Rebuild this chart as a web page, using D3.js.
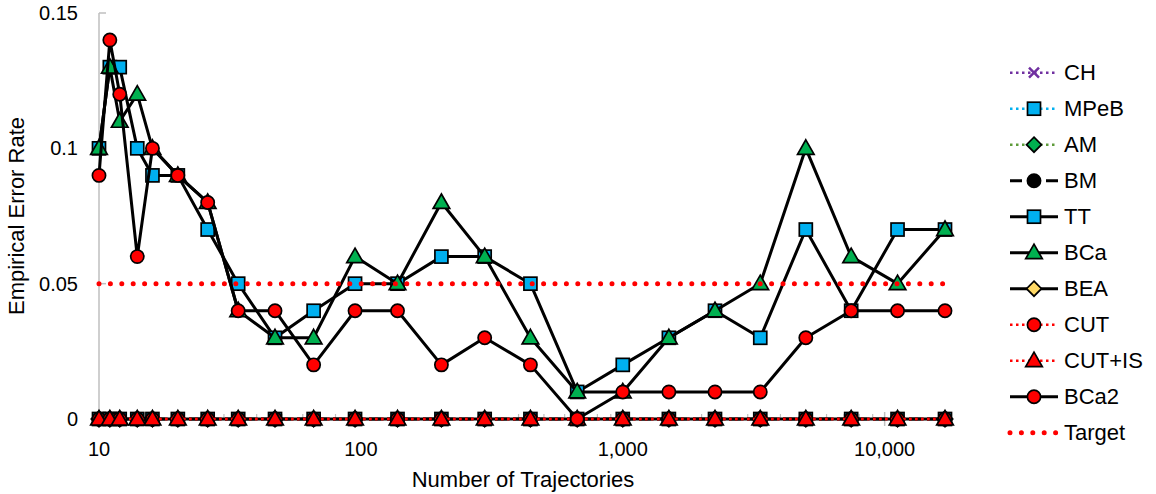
<!DOCTYPE html>
<html>
<head>
<meta charset="utf-8">
<script src="https://cdn.jsdelivr.net/npm/d3@7"></script>
<style>
body { margin: 0; background: #fff; }
text { font-family: "Liberation Sans", Arial, sans-serif; fill: #000; }
</style>
</head>
<body>
<script>
// data
var trajectories = [10, 11, 12, 14, 16, 20, 26, 34, 47, 66, 95, 138, 203, 297, 444, 670, 1000, 1500, 2250, 3350, 5000, 7450, 11200, 17000];

var ch    = [0, 0, 0, 0, 0, 0, 0, 0, 0, 0, 0, 0, 0, 0, 0, 0, 0, 0, 0, 0, 0, 0, 0, 0];
var mpeb  = [0, 0, 0, 0, 0, 0, 0, 0, 0, 0, 0, 0, 0, 0, 0, 0, 0, 0, 0, 0, 0, 0, 0, 0];
var am    = [0, 0, 0, 0, 0, 0, 0, 0, 0, 0, 0, 0, 0, 0, 0, 0, 0, 0, 0, 0, 0, 0, 0, 0];
var bm    = [0, 0, 0, 0, 0, 0, 0, 0, 0, 0, 0, 0, 0, 0, 0, 0, 0, 0, 0, 0, 0, 0, 0, 0];
var tt    = [0.10, 0.13, 0.13, 0.10, 0.09, 0.09, 0.07, 0.05, 0.03, 0.04, 0.05, 0.05, 0.06, 0.06, 0.05, 0.01, 0.02, 0.03, 0.04, 0.03, 0.07, 0.04, 0.07, 0.07];
var bca   = [0.10, 0.13, 0.11, 0.12, 0.10, 0.09, 0.08, 0.04, 0.03, 0.03, 0.06, 0.05, 0.08, 0.06, 0.03, 0.01, 0.01, 0.03, 0.04, 0.05, 0.10, 0.06, 0.05, 0.07];
var bea   = [0, 0, 0, 0, 0, 0, 0, 0, 0, 0, 0, 0, 0, 0, 0, 0, 0, 0, 0, 0, 0, 0, 0, 0];
var cut   = [0, 0, 0, 0, 0, 0, 0, 0, 0, 0, 0, 0, 0, 0, 0, 0, 0, 0, 0, 0, 0, 0, 0, 0];
var cutis = [0, 0, 0, 0, 0, 0, 0, 0, 0, 0, 0, 0, 0, 0, 0, 0, 0, 0, 0, 0, 0, 0, 0, 0];
var bca2  = [0.09, 0.14, 0.12, 0.06, 0.10, 0.09, 0.08, 0.04, 0.04, 0.02, 0.04, 0.04, 0.02, 0.03, 0.02, 0.00, 0.01, 0.01, 0.01, 0.01, 0.03, 0.04, 0.04, 0.04];
var target = [0.05, 0.05, 0.05, 0.05, 0.05, 0.05, 0.05, 0.05, 0.05, 0.05, 0.05, 0.05, 0.05, 0.05, 0.05, 0.05, 0.05, 0.05, 0.05, 0.05, 0.05, 0.05, 0.05, 0.05];

var yTicks = [0, 0.05, 0.1, 0.15];
var xTicks = [10, 100, 1000, 10000];

// styles for every series (legend order = drawing order)
var series = [
	{name: 'CH',     values: ch,     stroke: '#7030A0', width: 2.5, dash: '2.5 3.5', marker: 'x',        fill: 'none'},
	{name: 'MPeB',   values: mpeb,   stroke: '#00B0F0', width: 2.5, dash: '2.5 3.5', marker: 'square',   fill: '#00B0F0'},
	{name: 'AM',     values: am,     stroke: '#5E9B3A', width: 2.5, dash: '2.5 3.5', marker: 'diamond',  fill: '#00B050'},
	{name: 'BM',     values: bm,     stroke: '#000',    width: 3,   dash: '12 6',    marker: 'circle',   fill: '#000'},
	{name: 'TT',     values: tt,     stroke: '#000',    width: 3,   dash: null,      marker: 'square',   fill: '#00B0F0'},
	{name: 'BCa',    values: bca,    stroke: '#000',    width: 3,   dash: null,      marker: 'triangle', fill: '#00B050'},
	{name: 'BEA',    values: bea,    stroke: '#000',    width: 3,   dash: null,      marker: 'diamond',  fill: '#FFD966'},
	{name: 'CUT',    values: cut,    stroke: '#FF0000', width: 2.5, dash: '2.5 3.5', marker: 'circle',   fill: '#FF0000'},
	{name: 'CUT+IS', values: cutis,  stroke: '#FF0000', width: 2.5, dash: '2.5 3.5', marker: 'triangle', fill: '#FF0000'},
	{name: 'BCa2',   values: bca2,   stroke: '#000',    width: 3,   dash: null,      marker: 'circle',   fill: '#FF0000'},
	{name: 'Target', values: target, stroke: '#FF0000', width: 5,   dash: '0 11.4',  marker: null,       fill: 'none', round: true}
];

var width = 1156,
	height = 494;

var x = d3.scaleLog().domain([10, 17000]).range([99, 945]);
var y = d3.scaleLinear().domain([0, 0.15]).range([419, 13]);

var svg = d3.select('body').append('svg')
	.attr('width', width)
	.attr('height', height);

// markers
function drawMarker(g, type, fill, cx, cy, color) {
	var m;
	if (type === 'square') {
		m = g.append('rect')
			.attr('x', cx - 6.5).attr('y', cy - 6.5)
			.attr('width', 13).attr('height', 13);
	} else if (type === 'circle') {
		m = g.append('circle')
			.attr('cx', cx).attr('cy', cy).attr('r', 6.6);
	} else if (type === 'triangle') {
		m = g.append('path')
			.attr('d', 'M' + cx + ',' + (cy - 8.5) + 'L' + (cx + 8.3) + ',' + (cy + 6) + 'L' + (cx - 8.3) + ',' + (cy + 6) + 'Z');
	} else if (type === 'diamond') {
		m = g.append('path')
			.attr('d', 'M' + cx + ',' + (cy - 7.5) + 'L' + (cx + 7.5) + ',' + cy + 'L' + cx + ',' + (cy + 7.5) + 'L' + (cx - 7.5) + ',' + cy + 'Z');
	} else if (type === 'x') {
		g.append('path')
			.attr('d', 'M' + (cx - 5) + ',' + (cy - 5) + 'L' + (cx + 5) + ',' + (cy + 5) +
				'M' + (cx - 5) + ',' + (cy + 5) + 'L' + (cx + 5) + ',' + (cy - 5))
			.style('stroke', color)
			.style('stroke-width', 2.5)
			.style('fill', 'none');
		return;
	} else {
		return;
	}
	m.style('fill', fill)
		.style('stroke', '#000')
		.style('stroke-width', 1.7);
}

// axes
var axis = svg.append('g');

axis.append('line')
	.attr('x1', x(10)).attr('x2', x(10))
	.attr('y1', y(0.15)).attr('y2', y(0))
	.style('stroke', '#BFBFBF').style('stroke-width', 1.5);

axis.append('line')
	.attr('x1', x(10)).attr('x2', x(17000))
	.attr('y1', y(0)).attr('y2', y(0))
	.style('stroke', '#BFBFBF').style('stroke-width', 1.5);

// minor log ticks
var minor = [];
[10, 100, 1000, 10000].forEach(function(d) {
	for (var k = 2; k <= 9; k++) {
		if (d * k <= 17000) minor.push(d * k);
	}
});
axis.selectAll('.minor')
	.data(minor)
	.enter().append('line')
	.attr('class', 'minor')
	.attr('x1', function(d) { return x(d); })
	.attr('x2', function(d) { return x(d); })
	.attr('y1', y(0) - 5).attr('y2', y(0))
	.style('stroke', '#BFBFBF').style('stroke-width', 1.2);

axis.selectAll('.major')
	.data(xTicks.slice(1))
	.enter().append('line')
	.attr('class', 'major')
	.attr('x1', function(d) { return x(d); })
	.attr('x2', function(d) { return x(d); })
	.attr('y1', y(0) - 7).attr('y2', y(0) + 7)
	.style('stroke', '#BFBFBF').style('stroke-width', 1.5);

axis.selectAll('.ytick')
	.data(yTicks.slice(1))
	.enter().append('line')
	.attr('class', 'ytick')
	.attr('x1', x(10)).attr('x2', x(10) + 7)
	.attr('y1', function(d) { return y(d); })
	.attr('y2', function(d) { return y(d); })
	.style('stroke', '#BFBFBF').style('stroke-width', 1.5);

axis.selectAll('.ylab')
	.data(yTicks)
	.enter().append('text')
	.attr('class', 'ylab')
	.attr('x', 78)
	.attr('y', function(d) { return y(d); })
	.attr('dy', '0.35em')
	.attr('text-anchor', 'end')
	.style('font-size', '20px')
	.text(function(d) { return d === 0 ? '0' : String(d); });

axis.selectAll('.xlab')
	.data(xTicks)
	.enter().append('text')
	.attr('class', 'xlab')
	.attr('x', function(d) { return x(d); })
	.attr('y', 456)
	.attr('text-anchor', 'middle')
	.style('font-size', '20px')
	.text(function(d) { return d3.format(',')(d); });

svg.append('text')
	.attr('x', 523)
	.attr('y', 487)
	.attr('text-anchor', 'middle')
	.style('font-size', '22px')
	.text('Number of Trajectories');

svg.append('text')
	.attr('transform', 'translate(24,' + (y(0.075)) + ') rotate(-90)')
	.attr('text-anchor', 'middle')
	.style('font-size', '22px')
	.text('Empirical Error Rate');

// series
var line = d3.line()
	.x(function(d) { return x(d[0]); })
	.y(function(d) { return y(d[1]); });

series.forEach(function(s) {
	var pts = trajectories.map(function(n, i) { return [n, s.values[i]]; });
	var g = svg.append('g').attr('class', 'series');
	g.append('path')
		.attr('d', line(pts))
		.style('fill', 'none')
		.style('stroke', s.stroke)
		.style('stroke-width', s.width)
		.style('stroke-linejoin', 'round')
		.style('stroke-linecap', s.round ? 'round' : 'butt')
		.style('stroke-dasharray', s.dash);
	pts.forEach(function(p) {
		drawMarker(g, s.marker, s.fill, x(p[0]), y(p[1]), s.stroke);
	});
});

// legend
var legend = svg.append('g').attr('class', 'legend');

series.forEach(function(s, i) {
	var ly = 72.7 + i * 36;
	var lg = legend.append('g');
	lg.append('line')
		.attr('x1', 1010).attr('x2', 1058)
		.attr('y1', ly).attr('y2', ly)
		.style('stroke', s.stroke)
		.style('stroke-width', s.width)
		.style('stroke-linecap', s.round ? 'round' : 'butt')
		.style('stroke-dasharray', s.dash);
	drawMarker(lg, s.marker, s.fill, 1034, ly, s.stroke);
	lg.append('text')
		.attr('x', 1064)
		.attr('y', ly)
		.attr('dy', '0.35em')
		.style('font-size', '22px')
		.text(s.name);
});
</script>
</body>
</html>
